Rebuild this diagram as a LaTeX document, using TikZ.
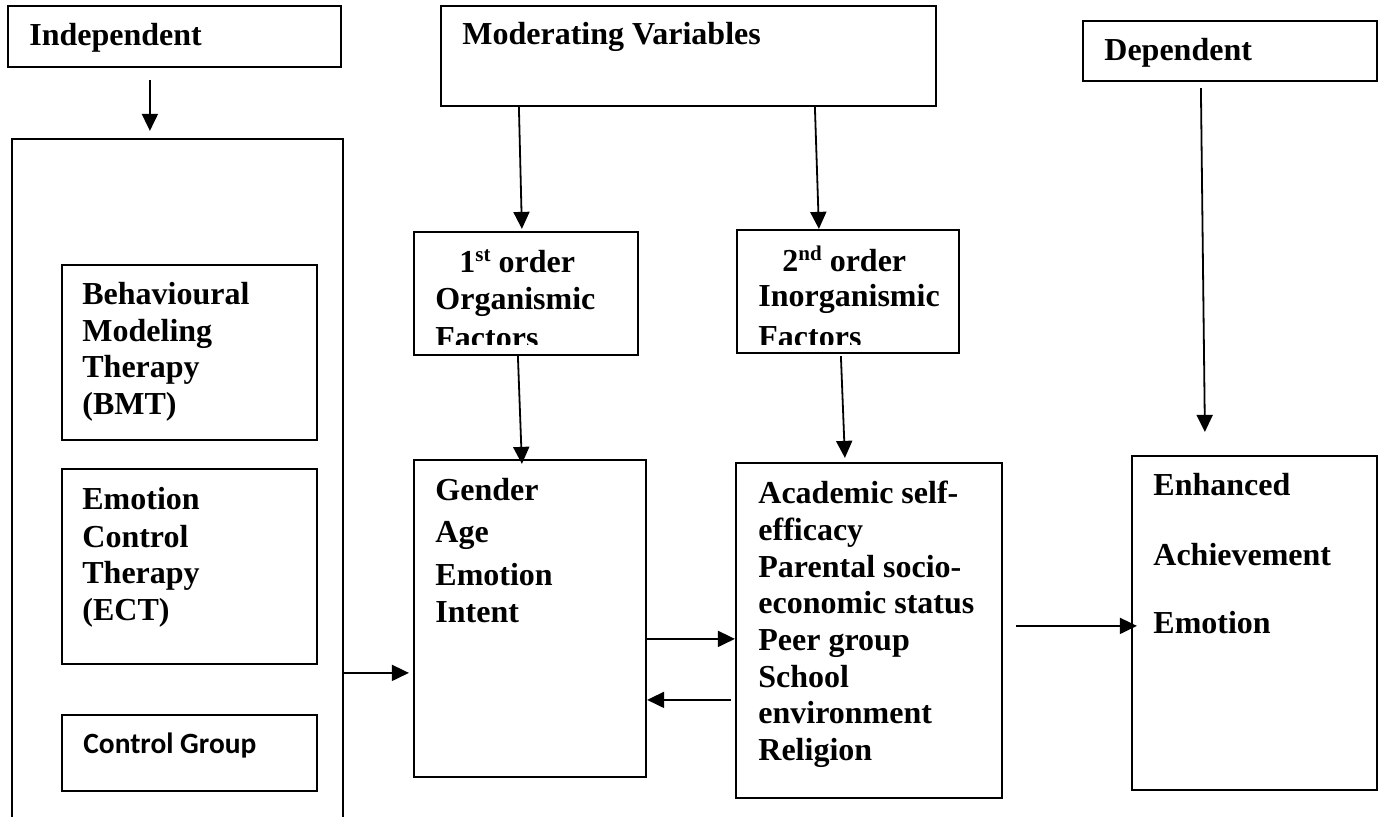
\documentclass[tikz,border=0pt]{standalone}
\usepackage{fontspec}
\setmainfont{Liberation Serif}
\newfontfamily\calfont{Carlito}
\usetikzlibrary{arrows.meta,fit,calc}
\newcommand\supr[1]{\raisebox{5.5pt}{\fontsize{10.5}{12}\selectfont\bfseries #1}}
\begin{document}
\begin{tikzpicture}[x=0.5pt,y=-0.5pt,
  box/.style={draw,line width=1.1pt,inner sep=0pt},
  lbl/.style={anchor=base west,inner sep=0pt,font=\fontsize{16}{19}\selectfont\bfseries},
  clbl/.style={anchor=base west,inner sep=0pt,font=\calfont\fontsize{14.7}{18}\selectfont\bfseries},
  arr/.style={-{Triangle[length=8.5pt,width=8pt]},line width=0.9pt}]
\useasboundingbox (0,0) rectangle (1379,817);
\clip (0,0) rectangle (1379,817);
\fill[white] (0,0) rectangle (1379,817);

% boxes
\node[box,fit={(8,6) (341,67)}] (ind) {};
\node[box,fit={(12,139) (343,850)}] (big) {};
\node[box,fit={(62,265) (317,440)}] (bmt) {};
\node[box,fit={(62,469) (317,664)}] (ect) {};
\node[box,fit={(62,715) (317,791)}] (ctl) {};
\node[box,fit={(441,6) (936,106)}] (mod) {};
\node[box,fit={(414,232) (638,355)}] (o1) {};
\node[box,fit={(737,230) (959,353)}] (o2) {};
\node[box,fit={(414,460) (646,777)}] (gen) {};
\node[box,fit={(736,463) (1002,798)}] (aca) {};
\node[box,fit={(1083,21) (1377,81)}] (dep) {};
\node[box,fit={(1132,456) (1377,790)}] (enh) {};

% texts
\node[lbl] (tind) at (29,46) {Independent};
\node[lbl] (tmod) at (462,45) {Moderating Variables};
\node[lbl] (tdep) at (1104,61) {Dependent};

\node[lbl] (b1) at (82,305) {Behavioural};
\node[lbl] (b2) at (82,342) {Modeling};
\node[lbl] (b3) at (82,378) {Therapy};
\node[lbl] (b4) at (82,415) {(BMT)};

\node[lbl] (e1) at (82,509) {Emotion};
\node[lbl] (e2) at (82,547) {Control};
\node[lbl] (e3) at (82,583) {Therapy};
\node[lbl] (e4) at (82,620) {(ECT)};

\node[clbl] (c1) at (83,753) {Control Group};

\begin{scope}
\clip (o1.north west) rectangle ($(o1.south east)+(0,-12)$);
\node[lbl] (f1) at (459,273) {1\supr{st} order};
\node[lbl] (f2) at (435,310) {Organismic};
\node[lbl] (f3) at (435,349) {Factors};
\end{scope}
\begin{scope}
\clip (o2.north west) rectangle ($(o2.south east)+(0,-10)$);
\node[lbl] (s1) at (782,272) {2\supr{nd} order};
\node[lbl] (s2) at (758,307) {Inorganismic};
\node[lbl] (s3) at (758,348) {Factors};
\end{scope}

\node[lbl] (g1) at (435,500) {Gender};
\node[lbl] (g2) at (435,542) {Age};
\node[lbl] (g3) at (435,585) {Emotion};
\node[lbl] (g4) at (435,622) {Intent};

\node[lbl] (a1) at (758,503) {Academic self-};
\node[lbl] (a2) at (758,540) {efficacy};
\node[lbl] (a3) at (758,577) {Parental socio-};
\node[lbl] (a4) at (758,613) {economic status};
\node[lbl] (a5) at (758,650) {Peer group};
\node[lbl] (a6) at (758,687) {School};
\node[lbl] (a7) at (758,723) {environment};
\node[lbl] (a8) at (758,760) {Religion};

\node[lbl] (h1) at (1153,495) {Enhanced};
\node[lbl] (h2) at (1153,565) {Achievement};
\node[lbl] (h3) at (1153,633) {Emotion};

% connectors
\draw[arr] ([shift={(143,12)}]ind.south west) -- ([shift={(139,-7)}]big.north west);
\draw[arr] ([shift={(0,535)}]big.north east) -- ([shift={(-4,214)}]gen.north west);
\draw[arr] ([shift={(79,0)}]mod.south west) -- ([shift={(109,-2)}]o1.north west);
\draw[arr] ([shift={(375,0)}]mod.south west) -- ([shift={(83,0)}]o2.north west);
\draw[arr] ([shift={(105,0)}]o1.south west) -- ([shift={(109,5)}]gen.north west);
\draw[arr] ([shift={(105,2)}]o2.south west) -- ([shift={(110,-4)}]aca.north west);
\draw[arr] ([shift={(0,180)}]gen.north east) -- ([shift={(0,177)}]aca.north west);
\draw[arr] ([shift={(-4,238)}]aca.north west) -- ([shift={(0,241)}]gen.north east);
\draw[arr] ([shift={(13,164)}]aca.north east) -- ([shift={(6,171)}]enh.north west);
\draw[arr] ([shift={(119,6)}]dep.south west) -- ([shift={(74,-23)}]enh.north west);
\end{tikzpicture}
\end{document}
